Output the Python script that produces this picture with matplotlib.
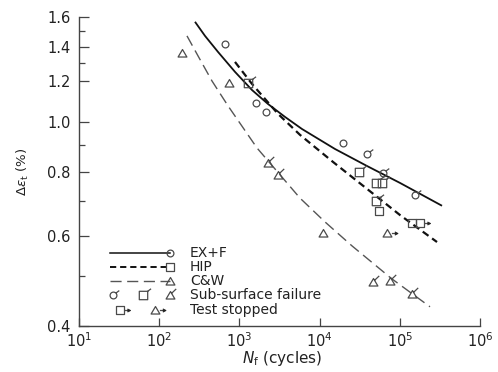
import numpy as np
import matplotlib
matplotlib.use("Agg")
import matplotlib.pyplot as plt
from matplotlib.path import Path
from matplotlib.ticker import FixedLocator, FixedFormatter, NullLocator

plt.rcParams['font.family'] = ['DejaVu Sans']
plt.rcParams['mathtext.fontset'] = 'dejavusans'

# ---------------- data ----------------
# fitted curves
exf_curve_N = [279.5, 372.5, 541, 881, 1436, 2273, 3703, 6034, 15560, 39000, 100600, 336000]
exf_curve_e = [1.566, 1.470, 1.368, 1.251, 1.153, 1.083, 1.022, 0.968, 0.885, 0.820, 0.760, 0.686]
hip_curve_N = [881, 1436, 3029, 5696, 14700, 39000, 100600, 291000]
hip_curve_e = [1.308, 1.185, 1.036, 0.943, 0.835, 0.740, 0.658, 0.583]
cw_curve_N = [222, 304.6, 455, 721, 1658, 5696, 11680, 25350, 79900, 238000]
cw_curve_e = [1.470, 1.344, 1.201, 1.074, 0.889, 0.710, 0.638, 0.573, 0.494, 0.436]

# EX+F points
exf_N = [660, 1610, 2140, 19500]
exf_e = [1.42, 1.09, 1.045, 0.91]
exf_ss_N = [39000, 62000, 155000]
exf_ss_e = [0.865, 0.795, 0.72]

# HIP points
hip_N = [55000, 142000]
hip_e = [0.67, 0.635]
hip_ss_N = [1280, 31000, 50000, 60000, 50000]
hip_ss_e = [1.19, 0.80, 0.76, 0.76, 0.70]
hip_stop_N = [179000]
hip_stop_e = [0.635]

# C&W points
cw_N = [192, 740, 11000]
cw_e = [1.36, 1.19, 0.607]
cw_ss_N = [2275, 3030, 46300, 75500, 142000]
cw_ss_e = [0.831, 0.788, 0.487, 0.490, 0.461]
cw_stop_N = [69000]
cw_stop_e = [0.607]

legend_labels = ["EX+F", "HIP", "C&W", "Sub-surface failure", "Test stopped"]
y_ticks = [0.4, 0.6, 0.8, 1.0, 1.2, 1.4, 1.6]
y_minor = [0.5, 0.7, 0.9, 1.3, 1.5]
x_ticks = [1e1, 1e2, 1e3, 1e4, 1e5, 1e6]

# ---------------- markers ----------------
def circle_body():
    return Path.unit_circle()

def square_body():
    return Path([(-1, -1), (1, -1), (1, 1), (-1, 1), (-1, -1)],
                [Path.MOVETO, Path.LINETO, Path.LINETO, Path.LINETO, Path.CLOSEPOLY])

def tri_body():
    return Path([(0, 0.9), (-1, -0.8), (1, -0.8), (0, 0.9)],
                [Path.MOVETO, Path.LINETO, Path.LINETO, Path.CLOSEPOLY])

def with_extra(body, segs):
    paths = [body]
    for seg in segs:
        paths.append(Path(seg, [Path.MOVETO] + [Path.LINETO] * (len(seg) - 1)))
    return Path.make_compound_path(*paths)

def ms_for(path, half_px):
    m = np.max(np.abs(path.vertices))
    return 2 * half_px * m * 72 / 100.0

C_HALF, S_HALF, T_HALF = 3.4, 4.2, 4.4

m_circ = circle_body()
m_circ_ss = with_extra(circle_body(), [[(0.72, 0.72), (1.7, 1.45)]])
m_sq = square_body()
m_sq_ss = with_extra(square_body(), [[(1.0, 1.0), (1.8, 1.6)]])
m_tri = tri_body()
m_tri_ss = with_extra(tri_body(), [[(0.25, 0.5), (1.3, 1.5)]])

ARW = 2.9
m_sq_stop = with_extra(square_body(), [[(1.0, 0.0), (ARW - 0.5, 0.0)]])
m_tri_stop = with_extra(tri_body(), [[(1.0, 0.0), (ARW - 0.5, 0.0)]])
m_head = Path([(ARW - 0.8, 0.45), (ARW, 0.0), (ARW - 0.8, -0.45), (ARW - 0.8, 0.45)],
              [Path.MOVETO, Path.LINETO, Path.LINETO, Path.CLOSEPOLY])

MC = '#4a4a4a'

fig = plt.figure(figsize=(4.98, 3.72), dpi=100)
ax = fig.add_axes([79 / 498, 1 - 326 / 372, 401 / 498, 309 / 372])
ax.set_xscale('log')
ax.set_yscale('log')
ax.set_xlim(1e1, 1e6)
ax.set_ylim(0.4, 1.6)

# curves
ax.plot(exf_curve_N, exf_curve_e, color='#111111', lw=1.3, solid_capstyle='butt',
        solid_joinstyle='round')
ax.plot(hip_curve_N, hip_curve_e, color='#111111', lw=1.6, dashes=(3.2, 2.0))
ax.plot(cw_curve_N, cw_curve_e, color='#555555', lw=1.0, dashes=(8, 4))

def pts(N, e, mk, half):
    ax.plot(N, e, ls='none', marker=mk, ms=ms_for(mk, half), mfc='none',
            mec=MC, mew=0.9, zorder=3)

pts(exf_N, exf_e, m_circ, C_HALF)
pts(exf_ss_N, exf_ss_e, m_circ_ss, C_HALF)
pts(hip_N, hip_e, m_sq, S_HALF)
pts(hip_ss_N, hip_ss_e, m_sq_ss, S_HALF)
pts(hip_stop_N, hip_stop_e, m_sq_stop, S_HALF)
ax.plot(hip_stop_N, hip_stop_e, ls='none', marker=m_head, ms=ms_for(m_sq_stop, S_HALF),
        mfc='#222222', mec='#222222', mew=0.5, zorder=3)
pts(cw_N, cw_e, m_tri, T_HALF)
pts(cw_ss_N, cw_ss_e, m_tri_ss, T_HALF)
pts(cw_stop_N, cw_stop_e, m_tri_stop, T_HALF)
ax.plot(cw_stop_N, cw_stop_e, ls='none', marker=m_head, ms=ms_for(m_tri_stop, T_HALF),
        mfc='#222222', mec='#222222', mew=0.5, zorder=3)

# axes styling
for s in ['top', 'right']:
    ax.spines[s].set_visible(False)
for s in ['left', 'bottom']:
    ax.spines[s].set_color('#444444')
    ax.spines[s].set_linewidth(1.0)

ax.xaxis.set_major_locator(FixedLocator(x_ticks))
ax.xaxis.set_minor_locator(NullLocator())
ax.set_xticklabels([r'$10^{%d}$' % int(round(np.log10(v))) for v in x_ticks])
ax.yaxis.set_major_locator(FixedLocator(y_ticks))
ax.yaxis.set_major_formatter(FixedFormatter(['%.1f' % v for v in y_ticks]))
ax.yaxis.set_minor_locator(FixedLocator(y_minor))
ax.yaxis.set_minor_formatter(FixedFormatter([''] * len(y_minor)))
ax.tick_params(axis='x', which='major', direction='in', length=6, width=0.9,
               color='#444444', labelsize=10.5, pad=4, labelcolor='#222222')
ax.tick_params(axis='y', which='major', direction='in', length=7, width=0.9,
               color='#444444', labelsize=10.5, pad=6, labelcolor='#222222')
ax.tick_params(axis='y', which='minor', direction='in', length=4, width=0.9, color='#444444')

fig.text(23 / 498, 1 - 172 / 372, r'$\Delta\varepsilon_{\rm t}$ (%)', rotation=90,
         ha='center', va='center', fontsize=9.5, color='#222222')
fig.text(282 / 498, 1 - 358 / 372, r'$N_{\rm f}$ (cycles)', ha='center', va='center',
         fontsize=11, color='#222222')

# legend (drawn in axes fraction coordinates)
T = ax.transAxes
rows = [0.236, 0.191, 0.146, 0.100, 0.052]
x0, x1, xt = 0.077, 0.227, 0.277
ax.plot([x0, x1], [rows[0]] * 2, transform=T, color='#111111', lw=1.1)
ax.plot([x0, x1], [rows[1]] * 2, transform=T, color='#111111', lw=1.4, dashes=(3.2, 2.0))
ax.plot([x0, x1], [rows[2]] * 2, transform=T, color='#555555', lw=1.0, dashes=(8, 4))
for mk, half, r in [(m_circ, C_HALF, rows[0]), (m_sq, S_HALF, rows[1]), (m_tri, T_HALF, rows[2])]:
    ax.plot([x1], [r], transform=T, marker=mk, ms=ms_for(mk, half), mfc='none', mec=MC, mew=0.9)
for mk, half, xx in [(m_circ_ss, C_HALF, 0.085), (m_sq_ss, S_HALF, 0.160), (m_tri_ss, T_HALF, 0.227)]:
    ax.plot([xx], [rows[3]], transform=T, marker=mk, ms=ms_for(mk, half), mfc='none', mec=MC, mew=0.9)
for mk, half, xx in [(m_sq_stop, S_HALF, 0.102), (m_tri_stop, T_HALF, 0.190)]:
    ax.plot([xx], [rows[4]], transform=T, marker=mk, ms=ms_for(mk, half), mfc='none', mec=MC, mew=0.9)
    ax.plot([xx], [rows[4]], transform=T, marker=m_head, ms=ms_for(mk, half),
            mfc='#222222', mec='#222222', mew=0.5)
for lab, r in zip(legend_labels, rows):
    ax.text(xt, r, lab, transform=T, ha='left', va='center', fontsize=10, color='#222222')

fig.savefig('out.png', dpi=100)
